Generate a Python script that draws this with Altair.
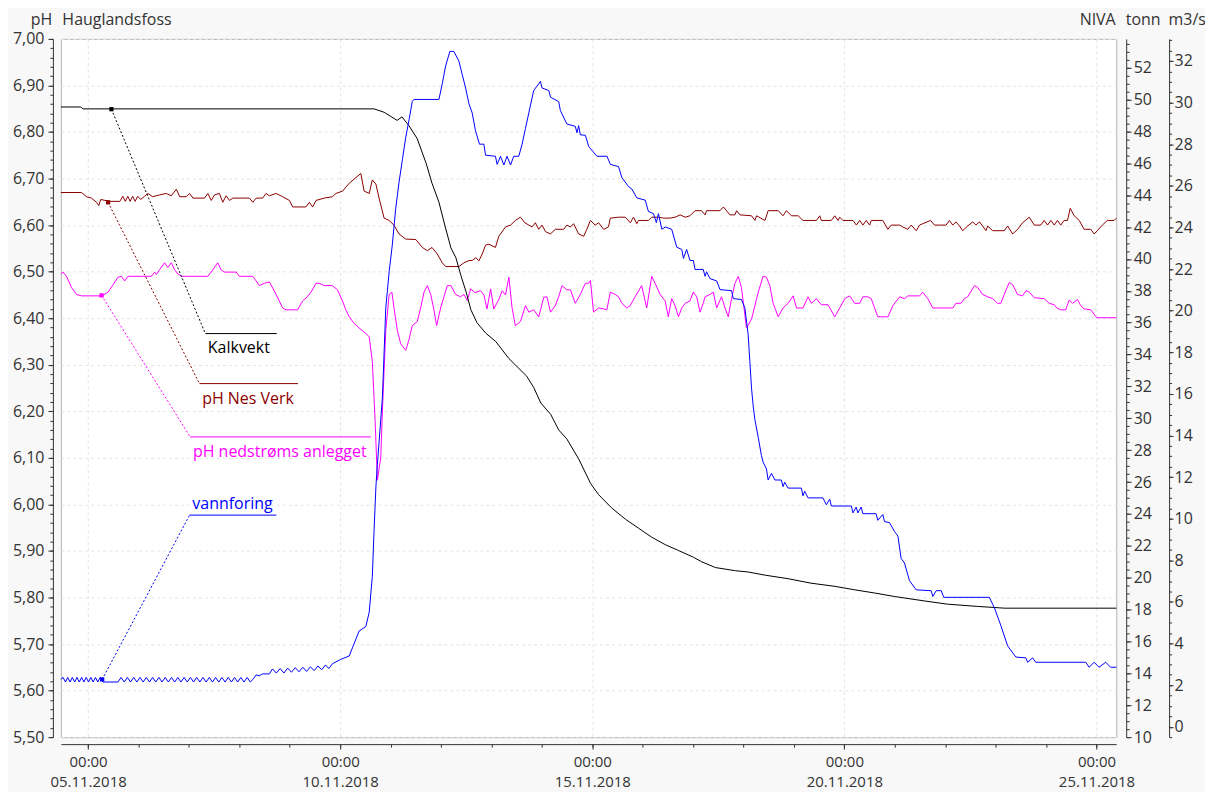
import altair as alt
import pandas as pd

# hours after 05.11.2018 00:00, value
KALKVEKT = [(-13.0, 49.53), (-3.5, 49.53), (-2.5, 49.41), (136.1, 49.41), (140.9, 49.2), (147.1, 48.69),
            (149.4, 48.91), (152.8, 48.34), (156.6, 47.56), (160.9, 46.0), (163.7, 44.75), (167.0, 43.56),
            (169.9, 42.06), (172.7, 40.69), (175.1, 40.06), (177.5, 38.94), (179.9, 37.94), (182.2, 36.81),
            (185.1, 36.0), (189.3, 35.34), (194.1, 34.81), (200.3, 33.75), (208.8, 32.64), (212.1, 31.94),
            (215.5, 30.96), (220.2, 30.25), (224.0, 29.27), (227.8, 28.72), (233.5, 27.46), (239.2, 25.91),
            (243.0, 25.21), (249.2, 24.38), (255.8, 23.67), (262.0, 23.11), (268.2, 22.55), (274.8, 22.07),
            (281.0, 21.71), (288.1, 21.29), (291.9, 21.01), (298.6, 20.64), (308.1, 20.44), (314.2, 20.36),
            (322.3, 20.16), (333.2, 19.94), (344.1, 19.66), (355.5, 19.46), (365.0, 19.24), (374.5, 19.04),
            (384.0, 18.82), (398.3, 18.54), (409.2, 18.34), (423.5, 18.2), (436.3, 18.09), (489.5, 18.09)]

NES_VERK = [(-13.0, 6.670), (-3.1, 6.670), (-0.8, 6.661), (1.6, 6.658), (4.0, 6.649), (5.1, 6.642), (6.0, 6.655),
            (10.3, 6.651), (15.1, 6.651), (16.5, 6.662), (17.7, 6.651), (18.9, 6.662), (20.0, 6.651), (21.2, 6.662),
            (22.4, 6.651), (23.6, 6.662), (25.0, 6.655), (26.9, 6.662), (28.5, 6.668), (30.7, 6.661), (34.1, 6.665),
            (37.2, 6.668), (39.6, 6.663), (42.0, 6.677), (43.6, 6.661), (46.7, 6.661), (48.3, 6.668), (49.9, 6.658),
            (55.4, 6.658), (57.0, 6.668), (58.6, 6.653), (60.2, 6.665), (62.5, 6.668), (64.1, 6.649), (65.7, 6.663),
            (67.3, 6.653), (68.9, 6.658), (76.8, 6.658), (78.4, 6.649), (80.0, 6.658), (83.1, 6.658), (84.7, 6.668),
            (86.3, 6.663), (89.5, 6.668), (92.6, 6.661), (95.8, 6.653), (97.4, 6.639), (103.7, 6.639), (105.3, 6.649),
            (106.9, 6.639), (108.5, 6.653), (112.4, 6.658), (116.3, 6.661), (118.0, 6.668), (121.1, 6.673),
            (124.3, 6.690), (127.5, 6.702), (129.8, 6.711), (131.4, 6.673), (133.8, 6.668), (135.3, 6.697),
            (137.0, 6.688), (138.5, 6.658), (140.9, 6.615), (143.3, 6.610), (145.6, 6.600), (148.0, 6.581),
            (151.2, 6.570), (156.0, 6.569), (159.1, 6.552), (161.5, 6.545), (163.7, 6.552), (166.2, 6.538),
            (168.6, 6.519), (170.2, 6.511), (176.5, 6.511), (178.9, 6.519), (181.3, 6.524), (182.8, 6.524),
            (184.6, 6.530), (186.0, 6.523), (187.6, 6.538), (189.2, 6.557), (190.8, 6.559), (193.9, 6.552),
            (195.5, 6.576), (198.7, 6.596), (201.1, 6.600), (203.4, 6.610), (205.8, 6.617), (207.9, 6.605),
            (209.8, 6.600), (211.3, 6.596), (212.9, 6.605), (214.5, 6.591), (216.1, 6.600), (217.7, 6.586),
            (220.1, 6.581), (222.4, 6.591), (226.4, 6.591), (227.9, 6.600), (229.6, 6.596), (231.1, 6.603),
            (233.5, 6.581), (235.9, 6.576), (237.4, 6.591), (239.1, 6.610), (241.4, 6.600), (243.0, 6.605),
            (245.4, 6.591), (247.7, 6.596), (248.6, 6.615), (252.5, 6.617), (255.7, 6.617), (258.1, 6.605),
            (259.6, 6.617), (261.2, 6.603), (262.0, 6.610), (266.7, 6.610), (268.3, 6.617), (271.5, 6.617),
            (273.9, 6.615), (277.0, 6.615), (279.4, 6.617), (281.8, 6.622), (284.2, 6.617), (286.5, 6.620),
            (288.9, 6.631), (292.0, 6.631), (293.7, 6.622), (294.4, 6.631), (300.8, 6.631), (302.4, 6.639),
            (303.9, 6.631), (305.5, 6.622), (307.9, 6.622), (308.7, 6.631), (310.3, 6.622), (315.8, 6.620),
            (317.4, 6.610), (318.2, 6.620), (322.2, 6.610), (323.7, 6.631), (328.5, 6.631), (330.8, 6.620),
            (332.4, 6.631), (334.8, 6.620), (338.0, 6.620), (340.3, 6.610), (346.7, 6.610), (348.3, 6.620),
            (349.0, 6.610), (353.8, 6.610), (355.4, 6.620), (357.0, 6.610), (357.8, 6.617), (359.3, 6.610),
            (364.1, 6.610), (365.7, 6.600), (367.3, 6.610), (368.8, 6.600), (370.4, 6.610), (372.0, 6.600),
            (372.8, 6.610), (378.3, 6.610), (380.7, 6.591), (382.3, 6.600), (386.3, 6.600), (387.8, 6.596),
            (390.2, 6.591), (391.8, 6.600), (394.2, 6.588), (395.8, 6.600), (401.0, 6.610), (402.9, 6.600),
            (408.4, 6.600), (410.0, 6.610), (411.6, 6.600), (413.1, 6.607), (414.8, 6.598), (416.3, 6.588),
            (418.7, 6.598), (421.1, 6.607), (422.6, 6.600), (424.3, 6.607), (425.8, 6.598), (427.4, 6.588),
            (428.2, 6.598), (430.6, 6.588), (436.1, 6.588), (437.7, 6.598), (440.1, 6.581), (442.5, 6.591),
            (444.8, 6.605), (448.0, 6.617), (450.4, 6.600), (453.5, 6.600), (455.1, 6.610), (456.7, 6.600),
            (458.3, 6.610), (459.9, 6.600), (461.4, 6.610), (463.0, 6.600), (464.6, 6.610), (466.2, 6.610),
            (467.5, 6.636), (469.4, 6.620), (471.8, 6.610), (474.1, 6.591), (477.3, 6.591), (478.9, 6.581),
            (480.4, 6.588), (482.8, 6.600), (485.2, 6.610), (488.4, 6.610), (489.5, 6.615)]

NEDSTROMS = [(-13.0, 6.495), (-11.9, 6.499), (-10.3, 6.490), (-7.9, 6.466), (-5.5, 6.451), (-3.1, 6.448),
             (6.4, 6.448), (9.5, 6.456), (11.9, 6.472), (14.2, 6.488), (15.9, 6.490), (17.4, 6.480), (19.0, 6.490),
             (30.1, 6.490), (31.7, 6.499), (32.5, 6.494), (34.0, 6.504), (36.4, 6.519), (38.0, 6.509), (39.6, 6.519),
             (41.2, 6.504), (42.7, 6.495), (44.4, 6.490), (57.0, 6.490), (59.4, 6.504), (61.7, 6.519), (63.3, 6.504),
             (64.9, 6.499), (70.5, 6.499), (72.0, 6.490), (78.4, 6.490), (80.0, 6.480), (81.5, 6.470), (83.9, 6.475),
             (86.3, 6.478), (89.5, 6.451), (92.6, 6.422), (94.2, 6.418), (99.7, 6.418), (102.1, 6.437), (104.3, 6.446),
             (106.1, 6.456), (108.5, 6.475), (110.0, 6.475), (112.4, 6.470), (116.3, 6.470), (118.7, 6.461),
             (121.1, 6.437), (122.7, 6.418), (124.3, 6.403), (126.6, 6.389), (129.0, 6.379), (132.2, 6.367),
             (133.8, 6.360), (135.3, 6.307), (136.6, 6.182), (137.7, 6.052), (139.3, 6.100), (140.1, 6.201),
             (141.7, 6.374), (143.3, 6.451), (144.6, 6.456), (145.6, 6.422), (147.2, 6.374), (148.8, 6.345),
             (151.2, 6.331), (152.8, 6.355), (154.3, 6.384), (156.7, 6.393), (158.3, 6.422), (159.9, 6.456),
             (161.5, 6.470), (163.1, 6.451), (164.6, 6.418), (165.9, 6.384), (167.8, 6.422), (169.4, 6.446),
             (171.0, 6.470), (172.7, 6.470), (174.9, 6.451), (177.3, 6.446), (178.9, 6.451), (180.5, 6.438),
             (182.1, 6.463), (184.1, 6.455), (186.8, 6.459), (188.4, 6.450), (189.9, 6.420), (191.6, 6.463),
             (193.1, 6.420), (195.5, 6.440), (197.1, 6.459), (198.7, 6.450), (200.3, 6.488), (201.8, 6.423),
             (203.4, 6.384), (205.8, 6.393), (208.2, 6.427), (209.8, 6.413), (212.1, 6.418), (214.5, 6.403),
             (216.9, 6.445), (218.4, 6.446), (220.1, 6.413), (222.4, 6.427), (224.0, 6.446), (225.6, 6.470),
             (227.9, 6.461), (229.6, 6.461), (231.9, 6.432), (234.3, 6.451), (236.7, 6.475), (238.3, 6.475),
             (239.1, 6.481), (240.6, 6.413), (243.0, 6.422), (245.4, 6.420), (246.9, 6.418), (248.6, 6.456),
             (250.9, 6.451), (252.5, 6.446), (254.1, 6.432), (256.4, 6.422), (258.0, 6.427), (260.4, 6.446),
             (263.5, 6.470), (265.9, 6.422), (268.3, 6.490), (269.9, 6.475), (272.3, 6.451), (274.7, 6.437),
             (276.2, 6.403), (277.8, 6.442), (279.4, 6.427), (281.0, 6.403), (282.6, 6.422), (284.2, 6.432),
             (286.5, 6.437), (288.1, 6.456), (289.7, 6.446), (291.3, 6.413), (292.8, 6.432), (293.7, 6.446),
             (296.0, 6.451), (297.6, 6.456), (299.2, 6.422), (301.5, 6.446), (303.2, 6.422), (304.7, 6.403),
             (306.3, 6.442), (307.9, 6.475), (309.5, 6.490), (311.0, 6.466), (313.4, 6.379), (315.8, 6.398),
             (317.4, 6.427), (319.0, 6.456), (321.3, 6.490), (322.9, 6.488), (324.5, 6.470), (326.1, 6.432),
             (328.5, 6.403), (330.8, 6.422), (333.2, 6.432), (335.6, 6.448), (337.2, 6.422), (340.3, 6.422),
             (342.7, 6.446), (344.3, 6.432), (346.7, 6.442), (349.0, 6.429), (352.2, 6.429), (355.4, 6.403),
             (357.8, 6.422), (360.2, 6.442), (362.5, 6.448), (364.9, 6.432), (367.3, 6.432), (368.8, 6.446),
             (371.2, 6.446), (372.8, 6.442), (375.9, 6.403), (380.7, 6.403), (383.1, 6.427), (386.3, 6.446),
             (388.6, 6.442), (390.2, 6.448), (395.8, 6.448), (397.3, 6.456), (399.7, 6.442), (402.1, 6.422),
             (411.6, 6.422), (413.1, 6.432), (415.5, 6.432), (417.1, 6.442), (418.7, 6.446), (421.9, 6.470),
             (423.5, 6.466), (425.8, 6.451), (428.2, 6.446), (430.6, 6.442), (432.9, 6.432), (434.5, 6.432),
             (436.1, 6.451), (438.5, 6.477), (440.1, 6.472), (442.4, 6.451), (444.8, 6.448), (446.4, 6.459),
             (448.0, 6.456), (450.4, 6.444), (455.1, 6.442), (457.5, 6.432), (459.9, 6.429), (461.1, 6.422),
             (463.0, 6.418), (465.4, 6.418), (467.0, 6.439), (468.6, 6.432), (471.0, 6.440), (472.5, 6.427),
             (474.1, 6.420), (477.3, 6.418), (480.1, 6.401), (489.5, 6.401)]

VANNFORING = [(-13.0, 2.28), (-11.9, 2.37), (-10.8, 2.15), (-9.7, 2.37), (-8.6, 2.15), (-7.5, 2.37), (-6.4, 2.15),
              (-5.3, 2.37), (-4.2, 2.15), (-3.1, 2.37), (-2.0, 2.15), (-0.9, 2.37), (0.2, 2.15), (1.3, 2.37),
              (2.4, 2.15), (3.5, 2.37), (4.6, 2.15), (5.7, 2.37), (6.7, 2.28), (7.1, 2.15), (14.2, 2.15),
              (15.7, 2.37), (17.2, 2.15), (18.7, 2.37), (20.2, 2.15), (21.7, 2.37), (23.2, 2.15), (24.7, 2.37),
              (26.2, 2.15), (27.7, 2.37), (29.2, 2.15), (30.7, 2.37), (32.2, 2.15), (33.7, 2.37), (35.2, 2.15),
              (36.7, 2.37), (38.2, 2.15), (39.7, 2.37), (41.2, 2.15), (42.7, 2.37), (44.2, 2.15), (45.7, 2.37),
              (47.2, 2.15), (48.7, 2.37), (50.2, 2.15), (51.7, 2.37), (53.2, 2.15), (54.7, 2.37), (56.2, 2.15),
              (57.7, 2.37), (59.2, 2.15), (60.7, 2.37), (62.2, 2.15), (63.7, 2.37), (65.2, 2.15), (66.7, 2.37),
              (68.2, 2.15), (69.7, 2.37), (71.2, 2.15), (72.7, 2.37), (74.2, 2.15), (75.7, 2.37), (77.2, 2.15),
              (78.5, 2.28), (80.0, 2.49), (81.5, 2.45), (83.0, 2.54), (86.3, 2.54), (87.8, 2.78), (89.6, 2.58),
              (91.4, 2.80), (93.2, 2.58), (95.0, 2.82), (96.8, 2.62), (98.6, 2.84), (100.4, 2.64), (102.2, 2.86),
              (104.0, 2.66), (105.8, 2.88), (107.6, 2.70), (109.4, 2.92), (111.2, 2.74), (113.0, 2.97),
              (114.6, 2.80), (116.3, 3.03), (120.3, 3.24), (124.3, 3.40), (125.8, 3.79), (129.0, 4.60),
              (132.2, 4.82), (133.8, 5.50), (135.3, 7.23), (136.1, 9.38), (137.0, 11.54), (137.7, 12.61),
              (138.5, 13.68), (140.1, 15.84), (140.9, 17.99), (141.7, 20.14), (143.3, 21.87), (144.8, 23.16),
              (146.4, 24.88), (148.0, 26.17), (149.6, 27.25), (151.2, 28.33), (152.8, 29.18), (154.3, 30.05),
              (155.1, 30.15), (167.0, 30.15), (168.6, 30.91), (170.2, 31.77), (172.2, 32.46), (174.1, 32.46),
              (176.5, 31.99), (178.1, 31.34), (179.7, 30.70), (181.3, 29.94), (182.8, 29.51), (184.4, 28.65),
              (186.3, 28.00), (188.4, 28.00), (189.2, 27.47), (193.9, 27.42), (194.7, 27.03), (196.3, 27.42),
              (197.9, 27.0), (199.4, 27.42), (201.1, 27.0), (202.6, 27.42), (205.0, 27.42), (206.6, 28.00),
              (208.2, 28.76), (209.8, 29.51), (212.1, 30.58), (214.5, 30.90), (215.3, 31.02), (216.1, 30.70),
              (219.3, 30.58), (220.1, 30.26), (224.0, 30.05), (224.8, 29.62), (227.9, 28.97), (231.9, 28.86),
              (232.7, 28.55), (233.5, 28.89), (234.3, 28.45), (236.7, 28.43), (238.3, 27.89), (242.2, 27.42),
              (247.0, 27.42), (248.6, 27.03), (252.5, 26.92), (254.1, 26.39), (257.3, 25.96), (258.8, 25.85),
              (261.2, 25.42), (265.2, 25.31), (266.7, 24.77), (269.1, 24.66), (270.5, 24.23), (271.5, 24.66),
              (273.1, 23.91), (274.7, 24.02), (277.8, 23.91), (280.2, 23.05), (282.6, 22.94), (283.4, 22.51),
              (284.9, 22.94), (286.5, 22.41), (288.1, 22.41), (288.9, 21.98), (292.8, 21.98), (293.7, 21.65),
              (294.4, 21.87), (296.0, 21.54), (299.2, 21.43), (300.8, 21.01), (306.3, 20.96), (307.1, 20.58),
              (311.0, 20.53), (312.6, 20.14), (313.4, 19.50), (314.2, 18.85), (315.0, 17.56), (315.8, 16.27),
              (316.6, 15.41), (317.4, 14.76), (319.0, 13.90), (320.5, 13.04), (321.3, 12.72), (322.9, 12.39),
              (323.7, 11.86), (325.3, 12.18), (326.9, 11.86), (330.0, 11.86), (330.8, 11.54), (331.6, 11.75),
              (333.2, 11.47), (339.5, 11.47), (340.3, 11.10), (341.1, 11.32), (342.7, 11.0), (349.8, 11.0),
              (351.4, 10.67), (353.0, 10.94), (353.8, 10.61), (363.3, 10.61), (364.1, 10.28), (365.6, 10.56),
              (366.4, 10.28), (368.0, 10.56), (368.8, 10.24), (375.1, 10.24), (375.9, 9.92), (378.3, 10.2),
              (379.1, 9.86), (381.5, 9.81), (383.9, 9.38), (385.5, 9.16), (387.0, 8.09), (388.6, 7.87),
              (391.0, 7.02), (394.2, 6.58), (401.3, 6.54), (402.1, 6.26), (403.7, 6.54), (406.1, 6.54),
              (407.3, 6.22), (429.0, 6.22), (431.4, 5.72), (434.5, 4.86), (437.7, 3.89), (441.6, 3.35),
              (446.4, 3.31), (447.2, 3.10), (449.6, 3.31), (451.1, 3.10), (474.9, 3.10), (476.5, 2.86),
              (478.9, 3.10), (481.2, 2.86), (484.4, 3.10), (486.7, 2.86), (489.5, 2.86)]

SERIES = ["Kalkvekt", "pH Nes Verk", "pH nedstrøms anlegget", "vannforing"]
COLORS = ["#000000", "#8b0000", "#ff00ff", "#0000ff"]

# annotation anchors (hours, pH)
MARK_H = [11.1, 9.5, 6.4, 6.7]
MARK_PH = [6.849, 6.649, 6.449, 5.624]
ELBOW_H = [55.8, 53.0, 48.6, 48.3]
ELBOW_PH = [6.367, 6.2595, 6.145, 5.977]
LINE_END_H = [89.8, 99.9, 134.6, 89.6]
LABEL_H = [57.0, 54.3, 49.9, 49.6]
LABEL_PH = [6.3245, 6.215, 6.102, 5.990]

T0 = pd.Timestamp("2018-11-05 00:00:00")
FONT = "Open Sans"
TXT = "#333333"


def ts(hours):
    return [(T0 + pd.Timedelta(hours=h)).strftime("%Y-%m-%dT%H:%M:%S") for h in hours]


def frame(pairs, name):
    return pd.DataFrame({"t": ts([p[0] for p in pairs]), "v": [p[1] for p in pairs], "series": name})


ph_df = pd.concat([frame(NES_VERK, SERIES[1]), frame(NEDSTROMS, SERIES[2])], ignore_index=True)
kalk_df = frame(KALKVEKT, SERIES[0])
flow_df = frame(VANNFORING, SERIES[3])
ann_df = pd.DataFrame({"series": SERIES, "t0": ts(MARK_H), "v0": MARK_PH, "t1": ts(ELBOW_H), "v1": ELBOW_PH,
                       "t2": ts(LINE_END_H), "tl": ts(LABEL_H), "vl": LABEL_PH})

x_scale = alt.Scale(domain=[alt.DateTime(year=2018, month=11, date=4, hours=11, minutes=2),
                            alt.DateTime(year=2018, month=11, date=25, hours=9, minutes=24)], nice=False)
ph_scale = alt.Scale(domain=[5.5, 7.0], nice=False, zero=False)
tonn_scale = alt.Scale(domain=[10.0, 53.8], nice=False, zero=False)
flow_scale = alt.Scale(domain=[-0.5, 33.06], nice=False, zero=False)
color_scale = alt.Scale(domain=SERIES, range=COLORS)

major_days = [alt.DateTime(year=2018, month=11, date=d) for d in [5, 10, 15, 20, 25]]
minor_days = [alt.DateTime(year=2018, month=11, date=d) for d in range(5, 26)]

x_major = alt.Axis(orient="bottom", offset=7, values=major_days,
                   labelExpr="[timeFormat(datum.value, '%H:%M'), timeFormat(datum.value, '%d.%m.%Y')]",
                   labelFontSize=15, labelLineHeight=20, labelPadding=5, tickSize=5, grid=True,
                   gridColor="#e4e4e4", gridDash=[3, 3], labelOverlap=False, labelFlush=False,
                   title="Hauglandsfoss", titleX=1, titleY=-721, titleAlign="left",
                   titleBaseline="alphabetic", titleAngle=0)
x_minor = alt.Axis(orient="bottom", offset=7, values=minor_days, labels=False, domain=False, tickSize=3,
                   grid=False, title="NIVA", titleX=1057, titleY=-721, titleAlign="right",
                   titleBaseline="alphabetic", titleAngle=0)

ph_major = alt.Axis(orient="left", offset=8, values=[round(5.5 + 0.1 * i, 2) for i in range(16)],
                    labelExpr="replace(format(datum.value, '.2f'), '.', ',')", tickSize=5, labelPadding=4,
                    grid=True, gridColor="#e4e4e4", gridDash=[3, 3],
                    title="pH", titleAngle=0, titleX=-1, titleY=-14, titleAlign="right",
                    titleBaseline="alphabetic")
ph_minor = alt.Axis(orient="left", offset=8, values=[round(5.5 + 0.02 * i, 2) for i in range(76)],
                    labels=False, domain=False, tickSize=3, grid=False, title=None)

tonn_major = alt.Axis(orient="right", offset=10, values=list(range(10, 53, 2)), format="d", tickSize=5,
                      labelPadding=2, grid=False, title="tonn", titleAngle=0, titleX=-1, titleY=-14,
                      titleAlign="left", titleBaseline="alphabetic")
tonn_minor = alt.Axis(orient="right", offset=10, values=[10 + 0.5 * i for i in range(88)], labels=False,
                      domain=False, tickSize=3, grid=False, title=None)

flow_major = alt.Axis(orient="right", offset=53, values=list(range(0, 33, 2)), format="d", tickSize=4,
                      labelPadding=1, grid=False, title="m3/s", titleAngle=0, titleX=-1, titleY=-14,
                      titleAlign="left", titleBaseline="alphabetic")
flow_minor = alt.Axis(orient="right", offset=53, values=[-0.5 + 0.5 * i for i in range(68)], labels=False,
                      domain=False, tickSize=2.5, grid=False, title=None)

color = alt.Color("series:N", scale=color_scale, legend=None)

ph_lines = alt.Chart(ph_df).mark_line(strokeWidth=1).encode(
    x=alt.X("t:T", scale=x_scale, axis=x_major),
    y=alt.Y("v:Q", scale=ph_scale, axis=ph_major),
    color=color)

kalk_line = alt.Chart(kalk_df).mark_line(strokeWidth=1, color="#000000").encode(
    x=alt.X("t:T", scale=x_scale, axis=x_minor),
    y=alt.Y("v:Q", scale=tonn_scale, axis=tonn_major))

flow_line = alt.Chart(flow_df).mark_line(strokeWidth=1, color="#0000ff").encode(
    x=alt.X("t:T", scale=x_scale, axis=None),
    y=alt.Y("v:Q", scale=flow_scale, axis=flow_major))

ph_minor_l = alt.Chart(pd.DataFrame({"v": [6.0]})).mark_point(opacity=0).encode(
    y=alt.Y("v:Q", scale=ph_scale, axis=ph_minor))
tonn_minor_l = alt.Chart(pd.DataFrame({"v": [30.0]})).mark_point(opacity=0).encode(
    y=alt.Y("v:Q", scale=tonn_scale, axis=tonn_minor))
flow_minor_l = alt.Chart(pd.DataFrame({"v": [10.0]})).mark_point(opacity=0).encode(
    y=alt.Y("v:Q", scale=flow_scale, axis=flow_minor))

base = alt.Chart(ann_df)
leaders = base.mark_rule(strokeWidth=1, strokeDash=[2, 2]).encode(
    x=alt.X("t0:T", scale=x_scale, axis=None), y=alt.Y("v0:Q", scale=ph_scale, axis=None),
    x2="t1:T", y2="v1:Q", color=color)
underlines = base.mark_rule(strokeWidth=1).encode(
    x=alt.X("t1:T", scale=x_scale, axis=None), x2="t2:T",
    y=alt.Y("v1:Q", scale=ph_scale, axis=None), color=color)
markers = base.mark_square(size=18, opacity=1).encode(
    x=alt.X("t0:T", scale=x_scale, axis=None), y=alt.Y("v0:Q", scale=ph_scale, axis=None), color=color)
labels = base.mark_text(align="left", baseline="alphabetic", fontSize=16, font=FONT).encode(
    x=alt.X("tl:T", scale=x_scale, axis=None), y=alt.Y("vl:Q", scale=ph_scale, axis=None),
    text="series:N", color=color)

chart = alt.layer(
    ph_lines, kalk_line, flow_line, ph_minor_l, tonn_minor_l, flow_minor_l,
    leaders, underlines, markers, labels
).resolve_scale(y="independent").resolve_axis(x="independent", y="independent").properties(
    width=1058, height=700, background="#f8f8f8",
    padding={"left": 53, "top": 30, "right": 89, "bottom": 54},
    autosize=alt.AutoSizeParams(type="none")
).configure_view(
    fill="white", stroke="#b4b4b4", strokeWidth=1
).configure_axis(
    labelFont=FONT, titleFont=FONT, labelFontSize=16, titleFontSize=16, labelColor=TXT, titleColor=TXT,
    titleFontWeight="normal", domainColor="#333333", tickColor="#333333", grid=False
)

chart.save("out.html", embed_options={"renderer": "svg", "actions": False})
